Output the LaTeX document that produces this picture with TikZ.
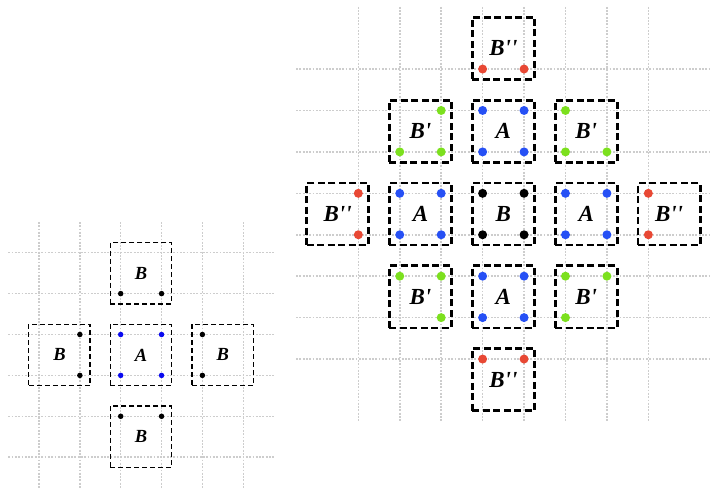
\documentclass[tikz,border=0pt]{standalone}
\usepackage{fontspec}
\setmainfont{Liberation Serif}
\definecolor{cred}{RGB}{232,72,52}
\definecolor{cgreen}{RGB}{124,224,30}
\definecolor{cblue}{RGB}{38,80,245}
\definecolor{lblue}{RGB}{10,10,240}
\definecolor{gridgray}{RGB}{205,205,205}
\tikzset{
  gridline/.style={draw=gridgray, line width=1.5pt, dash pattern=on 1.8pt off 1.5pt},
  lbox/.style={draw=black, line width=1.4pt, dash pattern=on 5pt off 3pt,
    minimum width=61.3pt, minimum height=61.3pt, inner sep=0pt,
    font=\fontsize{18.5}{21}\selectfont\bfseries\itshape},
  rbox/.style={draw=black, line width=2.8pt, dash pattern=on 7pt off 3.5pt,
    minimum size=62.1pt, inner sep=0pt,
    font=\fontsize{23}{27}\selectfont\bfseries\itshape},
  ldot/.style={circle, fill=#1, inner sep=0pt, minimum size=5.5pt},
  rdot/.style={circle, fill=#1, inner sep=0pt, minimum size=9pt},
}
\newcommand{\Bpp}{B\textquotesingle\textquotesingle}
\newcommand{\Bp}{B\textquotesingle}
\begin{document}
\begin{tikzpicture}
\useasboundingbox (0pt,0pt) rectangle (710pt,-488pt);
% ---------------- left diagram ----------------
\begin{scope}[shift={(39pt,-252.7pt)}, x=40.85pt, y=-40.9pt]
  \foreach \i in {0,...,5} {
    \draw[gridline] (\i,-0.75) -- (\i,5.75);
    \draw[gridline] (-0.75,\i) -- (5.75,\i);
  }
  \node[lbox] (LtB) at (2.5,0.5) {B};
  \node[lbox] (LlB) at (0.5,2.5) {B};
  \node[lbox] (LA)  at (2.5,2.5) {A};
  \node[lbox] (LrB) at (4.5,2.5) {B};
  \node[lbox] (LbB) at (2.5,4.5) {B};
  % dots
  \node[ldot=black] (LtB1) at (2,1) {};
  \node[ldot=black] (LtB2) at (3,1) {};
  \node[ldot=black] (LlB1) at (1,2) {};
  \node[ldot=black] (LlB2) at (1,3) {};
  \node[ldot=lblue] (LA1) at (2,2) {};
  \node[ldot=lblue] (LA2) at (3,2) {};
  \node[ldot=lblue] (LA3) at (2,3) {};
  \node[ldot=lblue] (LA4) at (3,3) {};
  \node[ldot=black] (LrB1) at (4,2) {};
  \node[ldot=black] (LrB2) at (4,3) {};
  \node[ldot=black] (LbB1) at (2,4) {};
  \node[ldot=black] (LbB2) at (3,4) {};
\end{scope}
% ---------------- right diagram ----------------
\begin{scope}[shift={(316.9pt,-27.6pt)}, x=41.43pt, y=-41.43pt]
  \foreach \i in {1,...,8} {
    \draw[gridline] (\i,-0.5) -- (\i,9.5);
    \draw[gridline] (-0.5,\i) -- (9.5,\i);
  }
  \node[rbox] (RtBpp) at (4.5,0.5) {\Bpp};
  \node[rbox] (RBp1)  at (2.5,2.5) {\Bp};
  \node[rbox] (RA1)   at (4.5,2.5) {A};
  \node[rbox] (RBp2)  at (6.5,2.5) {\Bp};
  \node[rbox] (RlBpp) at (0.5,4.5) {\Bpp};
  \node[rbox] (RA2)   at (2.5,4.5) {A};
  \node[rbox] (RB)    at (4.5,4.5) {B};
  \node[rbox] (RA3)   at (6.5,4.5) {A};
  \node[rbox] (RrBpp) at (8.5,4.5) {\Bpp};
  \node[rbox] (RBp3)  at (2.5,6.5) {\Bp};
  \node[rbox] (RA4)   at (4.5,6.5) {A};
  \node[rbox] (RBp4)  at (6.5,6.5) {\Bp};
  \node[rbox] (RbBpp) at (4.5,8.5) {\Bpp};
  % red dots (B'')
  \node[rdot=cred] (r1) at (4,1) {};
  \node[rdot=cred] (r2) at (5,1) {};
  \node[rdot=cred] (r3) at (1,4) {};
  \node[rdot=cred] (r4) at (1,5) {};
  \node[rdot=cred] (r5) at (8,4) {};
  \node[rdot=cred] (r6) at (8,5) {};
  \node[rdot=cred] (r7) at (4,8) {};
  \node[rdot=cred] (r8) at (5,8) {};
  % green dots (B')
  \node[rdot=cgreen] (g1) at (3,2) {};
  \node[rdot=cgreen] (g2) at (2,3) {};
  \node[rdot=cgreen] (g3) at (3,3) {};
  \node[rdot=cgreen] (g4) at (6,2) {};
  \node[rdot=cgreen] (g5) at (6,3) {};
  \node[rdot=cgreen] (g6) at (7,3) {};
  \node[rdot=cgreen] (g7) at (2,6) {};
  \node[rdot=cgreen] (g8) at (3,6) {};
  \node[rdot=cgreen] (g9) at (3,7) {};
  \node[rdot=cgreen] (g10) at (6,6) {};
  \node[rdot=cgreen] (g11) at (7,6) {};
  \node[rdot=cgreen] (g12) at (6,7) {};
  % blue dots (A)
  \foreach \cx/\cy/\n in {4/2/a, 2/4/b, 6/4/c, 4/6/d} {
    \node[rdot=cblue] (bl\n1) at (\cx,\cy) {};
    \node[rdot=cblue] (bl\n2) at (\cx+1,\cy) {};
    \node[rdot=cblue] (bl\n3) at (\cx,\cy+1) {};
    \node[rdot=cblue] (bl\n4) at (\cx+1,\cy+1) {};
  }
  % black dots (B)
  \node[rdot=black] (k1) at (4,4) {};
  \node[rdot=black] (k2) at (5,4) {};
  \node[rdot=black] (k3) at (4,5) {};
  \node[rdot=black] (k4) at (5,5) {};
\end{scope}
\end{tikzpicture}
\end{document}
